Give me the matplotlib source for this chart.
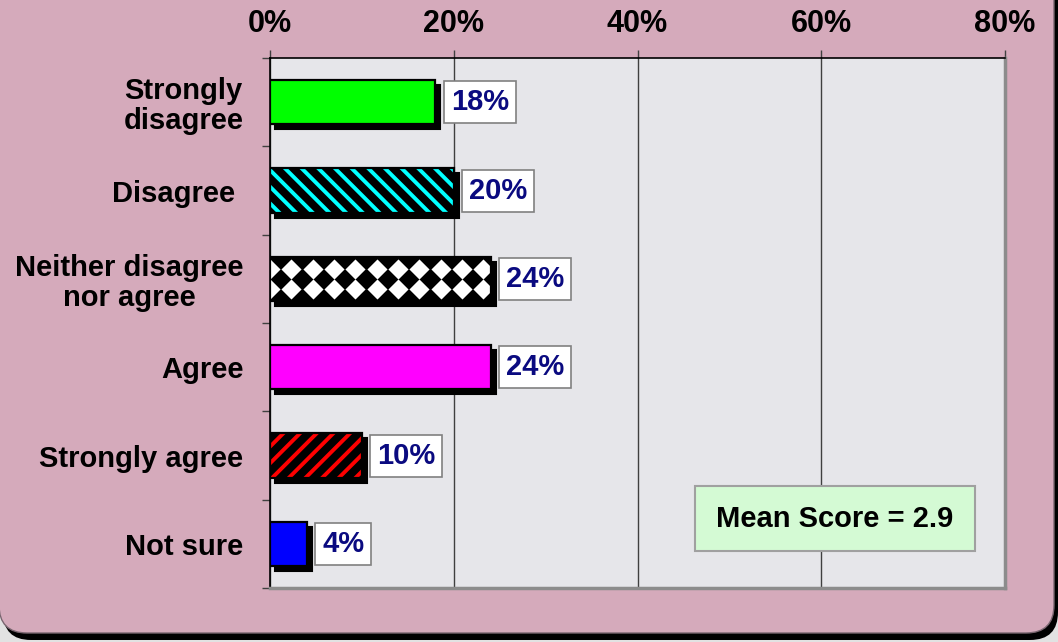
import numpy as np
import matplotlib
matplotlib.use('Agg')
import matplotlib.pyplot as plt
import matplotlib.transforms as mtransforms
from matplotlib.patches import FancyBboxPatch, Rectangle

# ---------------- data ----------------
categories = ['Strongly\ndisagree', 'Disagree ', 'Neither disagree\nnor agree',
              'Agree', 'Strongly agree', 'Not sure']
values = [18, 20, 24, 24, 10, 4]
value_labels = ['18%', '20%', '24%', '24%', '10%', '4%']
x_ticks = [0, 20, 40, 60, 80]
x_tick_labels = ['0%', '20%', '40%', '60%', '80%']
mean_text = 'Mean Score = 2.9'

# ---------------- style ----------------
face_colors = ['#00FF00', '#000000', '#000000', '#FF00FF', '#000000', '#0000FF']
hatch_styles = [None, '\\\\', None, None, '//', None]
hatch_colors = [None, '#00FFFF', None, None, '#FF0000', None]
diamond_bar = [False, False, True, False, False, False]

plt.rcParams['hatch.linewidth'] = 2.8
plt.rcParams['font.family'] = ['Liberation Sans', 'DejaVu Sans']

W, H, DPI = 1058, 642, 100
fig = plt.figure(figsize=(W / DPI, H / DPI), dpi=DPI, facecolor='#E2E2E2')

# rounded pink panel with black drop shadow (pixel coordinates)
ident = mtransforms.IdentityTransform()
shadow = FancyBboxPatch((3, 2), 1055, 700, boxstyle='round,pad=0,rounding_size=28',
                        facecolor='black', edgecolor='none', transform=ident, zorder=-10)
panel = FancyBboxPatch((-1, 9), 1055, 700, boxstyle='round,pad=0,rounding_size=28',
                       facecolor='#D5AABB', edgecolor='#7A6670', linewidth=1,
                       transform=ident, zorder=-9)
fig.add_artist(shadow)
fig.add_artist(panel)

ax = fig.add_axes([270 / W, (H - 588) / H, 735 / W, 530 / H])
ax.set_facecolor('#E6E6EA')

y = np.arange(len(categories))
bar_h = 0.5
shadow_tr = ax.transData + mtransforms.ScaledTranslation(5 / DPI, -5 / DPI, fig.dpi_scale_trans)

# shadows
for yi, v in zip(y, values):
    r = Rectangle((0, yi - bar_h / 2), v, bar_h, facecolor='black', edgecolor='black',
                  linewidth=1.5, transform=shadow_tr, zorder=2)
    ax.add_patch(r)

# bars
for yi, v, fc, hs, hc, dm in zip(y, values, face_colors, hatch_styles, hatch_colors, diamond_bar):
    if hs:
        ax.barh(yi, v, height=bar_h, color=fc, edgecolor=hc, hatch=hs, linewidth=0, zorder=3)
    else:
        ax.barh(yi, v, height=bar_h, color=fc, linewidth=0, zorder=3)
    border = ax.barh(yi, v, height=bar_h, fill=False, edgecolor='black', linewidth=1.6, zorder=5)
    if dm:
        clip = border[0]
        step = 2.32
        xs = np.arange(0, v, step)
        for dy in (-0.115, 0.115):
            sc = ax.scatter(xs, np.full_like(xs, yi + dy), marker='D', s=105, color='white',
                            linewidths=0, zorder=4)
            sc.set_clip_path(clip)

# value label boxes
for yi, v, lab in zip(y, values, value_labels):
    ax.annotate(lab, xy=(v, yi), xytext=(11, 0), textcoords='offset points',
                ha='left', va='center', fontsize=21, fontweight='bold', color='#0A0A80',
                bbox=dict(boxstyle='square,pad=0.24', facecolor='white', edgecolor='#808080',
                          linewidth=1.2), zorder=6)

# mean score box
ax.add_patch(Rectangle((0.578, 0.0698), 0.381, 0.1226, transform=ax.transAxes,
                       facecolor='#D4FAD4', edgecolor='#A0A0A0', linewidth=1.5, zorder=6))
ax.text(0.7685, 0.131, mean_text, transform=ax.transAxes, ha='center', va='center',
        fontsize=21, fontweight='bold', color='black', zorder=7)

# axes
ax.set_xlim(0, 80)
ax.set_ylim(len(categories) - 0.5, -0.5)
ax.xaxis.set_ticks_position('top')
ax.set_xticks(x_ticks)
ax.set_xticklabels(x_tick_labels, fontsize=22, fontweight='bold',
                   family=['Liberation Sans Narrow', 'Liberation Sans', 'DejaVu Sans'])
ax.tick_params(axis='x', direction='out', length=6, width=1, color='#404040', pad=8)
ax.set_yticks(y)
ax.set_yticklabels(categories, fontsize=21, fontweight='bold', multialignment='center',
                   linespacing=1.1)
ax.set_yticks(np.arange(-0.5, len(categories), 1), minor=True)
ax.tick_params(axis='y', which='major', length=0, pad=19)
ax.tick_params(axis='y', which='minor', direction='out', length=6, width=1, color='#404040')
for lab in ax.get_yticklabels():
    lab.set_multialignment('center')
    lab.set_linespacing(1.1)

ax.grid(axis='x', color='#404040', linewidth=1, zorder=1)
ax.set_axisbelow(True)
ax.spines['top'].set_color('black')
ax.spines['top'].set_linewidth(1.2)
ax.spines['left'].set_color('black')
ax.spines['left'].set_linewidth(1.2)
ax.spines['right'].set_color('#8C8C8C')
ax.spines['right'].set_linewidth(2.5)
ax.spines['bottom'].set_color('#8C8C8C')
ax.spines['bottom'].set_linewidth(2.5)

fig.savefig('out.png', dpi=DPI, facecolor=fig.get_facecolor())
